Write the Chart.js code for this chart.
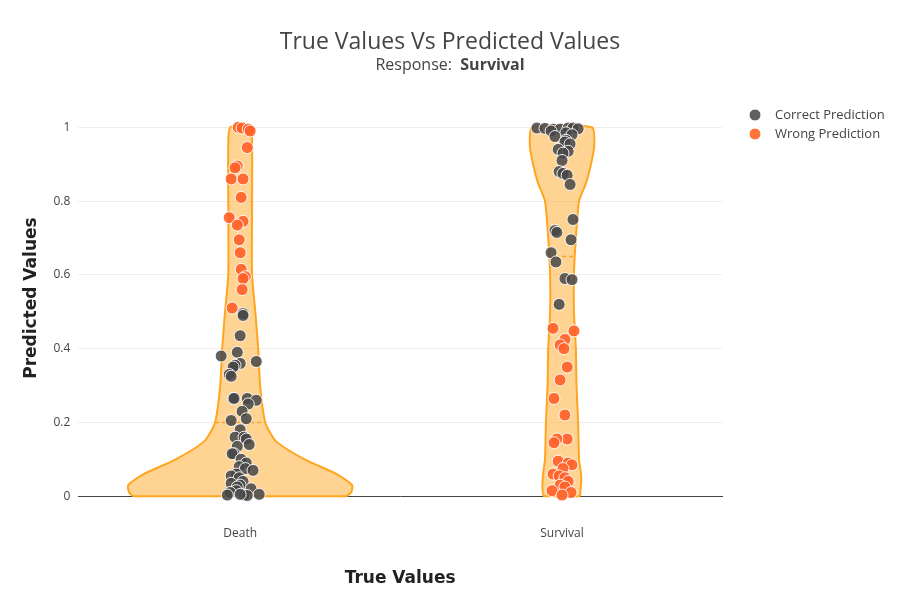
<!DOCTYPE html>
<html>
<head>
<meta charset="utf-8">
<script src="https://cdn.jsdelivr.net/npm/chart.js@4"></script>
<style>
  body { margin: 0; background: #fff; }
  #wrap { width: 900px; height: 600px; }
</style>
</head>
<body>
<div id="wrap"><canvas id="violin"></canvas></div>
<script>
// categories on the x axis
const categories = ['Death', 'Survival'];
const yTicks = [0, 0.2, 0.4, 0.6, 0.8, 1];

// violin outline: predicted value knots and half widths (category units)
const deathKnots = [0, 0.01, 0.03, 0.06, 0.1, 0.15, 0.2, 0.3, 0.4, 0.5, 0.6, 0.8, 0.95, 1];
const deathWidth = [0.33, 0.345, 0.348, 0.3, 0.2, 0.11, 0.078, 0.062, 0.056, 0.047, 0.037, 0.037, 0.037, 0.031];
const survKnots = [0, 0.05, 0.1, 0.2, 0.3, 0.4, 0.5, 0.6, 0.7, 0.8, 0.85, 0.9, 0.95, 1];
const survWidth = [0.056, 0.06, 0.053, 0.05, 0.045, 0.043, 0.037, 0.037, 0.043, 0.053, 0.075, 0.09, 0.1, 0.093];
const medians = [0.2, 0.65];

// points: predicted value and horizontal jitter (thousandths of a category)
const deathWrongY = [1.0, 0.998, 0.995, 0.99, 0.945, 0.895, 0.89, 0.86, 0.86, 0.81, 0.755, 0.745, 0.735, 0.695, 0.66, 0.615, 0.595, 0.59, 0.56, 0.51];
const deathWrongJ = [-6, 6, 25, 31, 22, -9, -16, -28, 9, 3, -34, 9, -9, -3, 0, 3, 16, 9, 6, -25];
const deathRightY = [0.495, 0.49, 0.435, 0.39, 0.38, 0.365, 0.36, 0.355, 0.35, 0.33, 0.325, 0.265, 0.265, 0.265, 0.26, 0.25, 0.23, 0.21, 0.205, 0.18, 0.16, 0.16, 0.155, 0.14, 0.135, 0.115, 0.115, 0.1, 0.09, 0.08, 0.075, 0.07, 0.06, 0.055, 0.05, 0.04, 0.035, 0.03, 0.025, 0.02, 0.015, 0.01, 0.005, 0.003, 0.003, 0.002, 0.005];
const deathRightJ = [9, 9, 0, -9, -59, 50, 0, -16, -22, -34, -28, -22, -19, 22, 50, 25, 6, 19, -28, 0, -16, 12, 19, 28, -9, -19, -25, 3, 19, -3, 16, 40, -12, -28, -3, 9, -28, 0, -9, 34, -12, -31, 59, -40, 12, 22, 0];
const survRightY = [0.998, 0.997, 0.995, 0.995, 0.998, 0.998, 0.996, 0.99, 0.985, 0.98, 0.975, 0.965, 0.96, 0.955, 0.94, 0.935, 0.93, 0.91, 0.88, 0.875, 0.87, 0.845, 0.75, 0.72, 0.715, 0.695, 0.66, 0.635, 0.59, 0.587, 0.52];
const survRightJ = [-78, -53, -28, -6, 19, 34, 50, -34, 12, 31, -22, 12, 9, 25, -12, 19, 3, 0, -9, 3, 16, 25, 34, -22, -16, 28, -34, -19, 9, 31, -9];
const survWrongY = [0.455, 0.448, 0.425, 0.41, 0.4, 0.35, 0.315, 0.265, 0.22, 0.155, 0.155, 0.145, 0.095, 0.09, 0.085, 0.075, 0.06, 0.055, 0.05, 0.04, 0.03, 0.025, 0.015, 0.01, 0.003];
const survWrongJ = [-28, 37, 9, -6, 6, 16, -6, -25, 9, 16, -16, -25, -12, 19, 31, 3, -28, -9, 9, 19, -6, 9, -31, 28, 0];

function outline(cat, knots, widths) {
    let pts = [];
    knots.forEach((y, i) => pts.push({x: cat + widths[i], y: y}));
    for (let i = knots.length - 1; i >= 0; i--) pts.push({x: cat - widths[i], y: knots[i]});
    pts.push({x: cat + widths[0], y: knots[0]});
    return pts;
}
function points(cat, ys, js) {
    return ys.map((y, i) => ({x: cat + js[i] / 1000, y: y}));
}
function medianLine(cat, knots, widths, m) {
    let i = knots.findIndex(k => k >= m);
    let w = widths[Math.max(i, 0)];
    return [{x: cat - w, y: m}, {x: cat + w, y: m}];
}

const grey = 'rgba(70,70,70,0.85)';
const orange = 'rgba(255,96,40,0.9)';

let violinStyle = {
    type: 'line', showLine: true, fill: 'shape', tension: 0.2, order: 10,
    backgroundColor: 'rgba(255,170,40,0.5)', borderColor: '#ffa51f', borderWidth: 2,
    pointRadius: 0, clip: false
};
let medianStyle = {
    type: 'line', showLine: true, fill: false, borderColor: '#ffa51f', order: 5,
    borderWidth: 1.5, borderDash: [4, 3], pointRadius: 0
};
let pointStyle = {
    type: 'scatter', pointRadius: 6, pointHoverRadius: 6, order: 1,
    pointBorderColor: 'rgba(255,255,255,0.9)', pointBorderWidth: 1, clip: false
};

const decor = {
    id: 'decor',
    afterDraw(chart) {
        const ctx = chart.ctx;
        ctx.save();
        ctx.fillStyle = '#444';
        ctx.textAlign = 'center';
        ctx.textBaseline = 'middle';
        ctx.font = '23px "Open Sans", sans-serif';
        ctx.fillText('True Values Vs Predicted Values', 450, 42);
        ctx.font = '16px "Open Sans", sans-serif';
        let a = 'Response:  ', b = 'Survival';
        let wa = ctx.measureText(a).width;
        ctx.font = 'bold 16px "Open Sans", sans-serif';
        let wb = ctx.measureText(b).width;
        let x0 = 450 - (wa + wb) / 2;
        ctx.textAlign = 'left';
        ctx.fillText(b, x0 + wa, 65);
        ctx.font = '16px "Open Sans", sans-serif';
        ctx.fillText(a, x0, 65);
        // legend
        const items = [['Correct Prediction', 'rgba(80,80,80,0.9)'], ['Wrong Prediction', 'rgba(255,110,50,0.95)']];
        ctx.font = '13px "Open Sans", sans-serif';
        items.forEach((it, i) => {
            let y = 115 + i * 19;
            ctx.beginPath();
            ctx.arc(755, y, 6, 0, Math.PI * 2);
            ctx.fillStyle = it[1];
            ctx.fill();
            ctx.strokeStyle = '#fff';
            ctx.stroke();
            ctx.fillStyle = '#444';
            ctx.fillText(it[0], 775, y);
        });
        ctx.restore();
    }
};

new Chart(document.getElementById('violin'), {
    data: {
        datasets: [
            Object.assign({data: outline(0, deathKnots, deathWidth)}, violinStyle),
            Object.assign({data: outline(1, survKnots, survWidth)}, violinStyle),
            Object.assign({data: medianLine(0, deathKnots, deathWidth, medians[0])}, medianStyle),
            Object.assign({data: medianLine(1, survKnots, survWidth, medians[1])}, medianStyle),
            Object.assign({label: 'Correct Prediction', data: points(0, deathRightY, deathRightJ), backgroundColor: grey}, pointStyle),
            Object.assign({label: 'Wrong Prediction', data: points(0, deathWrongY, deathWrongJ), backgroundColor: orange}, pointStyle),
            Object.assign({label: 'Correct Prediction', data: points(1, survRightY, survRightJ), backgroundColor: grey}, pointStyle),
            Object.assign({label: 'Wrong Prediction', data: points(1, survWrongY, survWrongJ), backgroundColor: orange}, pointStyle)
        ]
    },
    options: {
        responsive: true,
        maintainAspectRatio: false,
        animation: false,
        layout: {padding: {top: 100, right: 178, left: 17, bottom: 4}},
        plugins: {legend: {display: false}, tooltip: {enabled: false}},
        scales: {
            x: {
                type: 'linear', min: -0.503, max: 1.497,
                afterBuildTicks: (ax) => { ax.ticks = [{value: 0}, {value: 1}]; },
                ticks: {callback: (v) => categories[v], color: '#444', padding: 22, font: {size: 12, family: '"Open Sans"'}},
                grid: {display: false},
                border: {display: true, color: '#444'},
                title: {display: true, text: 'True Values', color: '#222', padding: {top: 6, bottom: 7}, font: {size: 17, weight: 'bold', family: '"DejaVu Sans"'}}
            },
            y: {
                min: 0, max: 1.074,
                afterBuildTicks: (ax) => { ax.ticks = yTicks.map(v => ({value: v})); },
                ticks: {callback: (v) => String(v), color: '#444', padding: 8, font: {size: 12, family: '"Open Sans"'}},
                grid: {color: '#eee', drawTicks: false},
                border: {display: false},
                title: {display: true, text: 'Predicted Values', color: '#222', padding: {bottom: 4}, font: {size: 17, weight: 'bold', family: '"DejaVu Sans"'}}
            }
        }
    },
    plugins: [decor]
});
</script>
</body>
</html>
